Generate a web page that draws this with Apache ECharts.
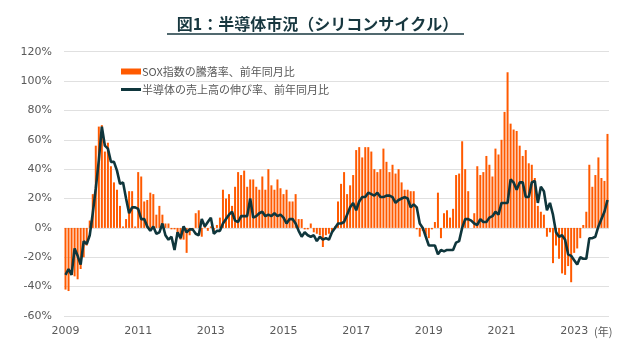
<!DOCTYPE html>
<html><head><meta charset="utf-8">
<script src="https://cdn.jsdelivr.net/npm/echarts@6/dist/echarts.min.js"></script>
<style>html,body{margin:0;padding:0;background:#fff}#c{width:635px;height:354px}</style>
</head><body><div id="c"></div>
<script>
var years = [2009,2010,2011,2012,2013,2014,2015,2016,2017,2018,2019,2020,2021,2022,2023];
var yTicks = [-60,-40,-20,0,20,40,60,80,100,120];
// SOX index YoY change (%), monthly, Jan 2009 - Dec 2023
var sox = [
 -42,-43,-32,-33,-35,-28,-20,-12,5,23,56,69,
 70,52,58,42,31,26,15,1,6,25,25,1,
 38,35,18,19,24,23,9,15,9,3,3,-1,
 -1,-5,-8,-8,-17,-5,-2,10,12,-6,1,-2,
 1,-3,2,7,26,20,23,15,28,38,36,39,
 28,33,33,28,26,35,26,40,29,26,33,27,
 23,26,18,18,23,6,6,-1,-1,3,-3,-4,
 -5,-13,-5,-4,-3,1,18,30,38,23,29,36,
 53,55,48,55,55,52,40,38,40,54,45,38,
 43,37,40,31,26,26,25,25,-1,-6,-2,-5,
 -7,-1,4,24,-7,10,12,7,13,36,37,59,
 40,25,0,10,42,36,38,49,43,35,54,50,
 60,79,106,71,67,66,56,49,53,44,43,34,
 15,11,9,-6,-3,-24,-12,-21,-31,-32,-26,-37,
 -17,-14,-7,2,11,43,28,36,48,34,32,64
];
// Semiconductor sales YoY growth (%), monthly
var sales = [
 -32,-28,-32,-14,-19,-25,-9,-11,-5,10,27,46,
 69,56,54,45,45,39,30,31,20,10,14,14,
 13,6,6,1,-2,1,-4,-3,3,-5,-8,-6,
 -15,-3,-7,1,-3,-1,-1,-4,-5,6,1,4,
 7,-4,-2,-2,3,6,9,11,5,4,8,8,
 8,20,7,8,10,11,8,9,8,10,8,9,
 7,3,6,6,3,-2,-6,-3,-5,-6,-5,-9,
 -6,-8,-7,-8,-3,0,3,3,4,9,14,17,
 12,18,21,21,24,23,22,24,21,21,22,22,
 21,17,19,20,21,20,14,16,14,3,0,-6,
 -12,-12,-12,-18,-15,-16,-15,-15,-15,-10,-9,0,
 6,6,5,3,2,6,4,4,7,8,11,9,
 17,17,17,33,31,26,31,31,21,21,31,32,
 17,28,25,12,17,9,-3,-6,-5,-8,-18,-19,
 -22,-25,-20,-21,-21,-7,-7,-6,1,6,11,19
];
var months = [];
years.forEach(function(y){ for (var m=1;m<=12;m++){ months.push(y + '/' + (m<10?'0':'') + m); } });

var chart = echarts.init(document.getElementById('c'), null, {renderer:'canvas'});
var jp = '"Noto Sans CJK JP", sans-serif';
var lat = '"DejaVu Sans", Verdana, sans-serif';
chart.setOption({
  animation:false,
  backgroundColor:'#ffffff',
  title:{text:'図1：半導体市況（シリコンサイクル）', left:'center', top:11,
    textStyle:{fontFamily:jp, fontSize:16, fontWeight:'bold', color:'#17373f'}},
  graphic:[
    {type:'line', shape:{x1:167,y1:34,x2:464,y2:34}, style:{stroke:'#17373f', lineWidth:1.5}},
    {type:'text', left:594, top:326, style:{text:'(年)', fontFamily:jp, fontSize:11, fill:'#595959'}}
  ],
  legend:[
    {data:[{name:'SOX指数の騰落率、前年同月比', icon:'rect'}], left:121, top:66, padding:0, itemWidth:20, itemHeight:6, itemGap:2,
     textStyle:{fontFamily:jp, fontSize:11, color:'#595959', padding:[0,0,0,-4]}},
    {data:[{name:'半導体の売上高の伸び率、前年同月比', icon:'rect'}], left:121, top:84, padding:0, itemWidth:20, itemHeight:3,
     textStyle:{fontFamily:jp, fontSize:11, color:'#595959', padding:[0,0,0,-4]}}
  ],
  grid:{left:64, right:26, top:51.7, bottom:38, containLabel:false},
  xAxis:{type:'category', data:months, boundaryGap:true,
    axisLine:{show:false}, axisTick:{show:false},
    axisLabel:{interval:function(i){return i%24===0;}, formatter:function(v){return v.slice(0,4);},
      margin:10, fontFamily:lat, fontSize:11, color:'#595959'},
    splitLine:{show:false}},
  yAxis:{type:'value', min:-60, max:120, interval:20,
    axisLine:{show:false}, axisTick:{show:false},
    axisLabel:{formatter:'{value}%', margin:12, fontFamily:lat, fontSize:11, color:'#595959'},
    splitLine:{lineStyle:{color:'#e0e0e0', width:1.2}}},
  series:[
    {name:'SOX指数の騰落率、前年同月比', type:'bar', data:sox, barWidth:'66%',
     itemStyle:{color:'#ff5a00'}},
    {name:'半導体の売上高の伸び率、前年同月比', type:'line', data:sales, symbol:'none',
     lineStyle:{color:'#0f363c', width:2.6}, itemStyle:{color:'#0f363c'}}
  ]
});
</script></body></html>
